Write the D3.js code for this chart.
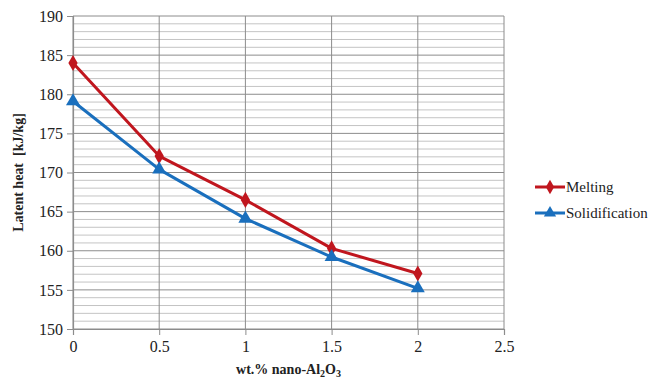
<!DOCTYPE html>
<html>
<head>
<meta charset="utf-8">
<script src="https://cdn.jsdelivr.net/npm/d3@7"></script>
<style>
  body { margin: 0; background: #fff; }
  svg { display: block; }
  text { font-family: "Liberation Serif", "DejaVu Serif", serif; fill: #222; }
</style>
</head>
<body>
<script>
const xValues = [0, 0.5, 1, 1.5, 2];
const melting = [184.0, 172.1, 166.5, 160.3, 157.1];
const solidification = [179.1, 170.4, 164.1, 159.2, 155.2];
const xTicks = [0, 0.5, 1, 1.5, 2, 2.5];
const yTicks = [150, 155, 160, 165, 170, 175, 180, 185, 190];
const seriesNames = ["Melting", "Solidification"];
const seriesColors = ["#C0161E", "#1A6FBD"];

const W = 667, H = 382;
const svg = d3.select("body").append("svg").attr("width", W).attr("height", H);

const x = d3.scaleLinear().domain([0, 2.5]).range([73, 504]);
const y = d3.scaleLinear().domain([150, 190]).range([329, 16]);

// minor horizontal gridlines every 1 unit
const minor = d3.range(150, 191, 1).filter(v => v % 5 !== 0);
svg.append("g").selectAll("line").data(minor).join("line")
  .attr("x1", x(0)).attr("x2", x(2.5))
  .attr("y1", d => y(d)).attr("y2", d => y(d))
  .attr("stroke", "#c4c4c4").attr("stroke-width", 1);

// major horizontal gridlines
svg.append("g").selectAll("line").data(yTicks).join("line")
  .attr("x1", x(0)).attr("x2", x(2.5))
  .attr("y1", d => y(d)).attr("y2", d => y(d))
  .attr("stroke", "#8c8c8c").attr("stroke-width", 1);

// vertical gridlines
svg.append("g").selectAll("line").data(xTicks).join("line")
  .attr("x1", d => x(d)).attr("x2", d => x(d))
  .attr("y1", y(150)).attr("y2", y(190))
  .attr("stroke", "#8c8c8c").attr("stroke-width", 1);

// axes
const yAxis = svg.append("g").attr("transform", `translate(${x(0)},0)`)
  .call(d3.axisLeft(y).tickValues(yTicks).tickSize(6).tickPadding(4).tickFormat(d3.format("d")));
const xAxis = svg.append("g").attr("transform", `translate(0,${y(150)})`)
  .call(d3.axisBottom(x).tickValues(xTicks).tickSize(6).tickPadding(6).tickFormat(d => String(d)));
[yAxis, xAxis].forEach(g => {
  g.attr("font-family", '"Liberation Serif", serif').attr("font-size", 16);
  g.select(".domain").attr("stroke", "#8c8c8c").attr("stroke-width", 1.2);
  g.selectAll(".tick line").attr("stroke", "#8c8c8c");
  g.selectAll(".tick text").attr("fill", "#333");
});

// series
const series = [melting, solidification];
const line = d3.line().x((d, i) => x(xValues[i])).y(d => y(d));
series.forEach((vals, si) => {
  svg.append("path").datum(vals).attr("d", line)
    .attr("fill", "none").attr("stroke", seriesColors[si]).attr("stroke-width", 3)
    .attr("stroke-linejoin", "round");
  const sym = si === 0 ? d3.symbolDiamond : d3.symbolTriangle;
  const size = si === 0 ? 75 : 85;
  svg.append("g").selectAll("path").data(vals).join("path")
    .attr("transform", (d, i) => `translate(${x(xValues[i])},${y(d)})`)
    .attr("d", d3.symbol().type(sym).size(size))
    .attr("fill", seriesColors[si]);
});

// axis titles
svg.append("text")
  .attr("transform", `translate(23,${(y(150) + y(190)) / 2}) rotate(-90)`)
  .attr("text-anchor", "middle").style("font-size", "14px").style("font-weight", "bold")
  .attr("xml:space", "preserve")
  .text("Latent heat  [kJ/kg]");

const xt = svg.append("text")
  .attr("x", (x(0) + x(2.5)) / 2).attr("y", 374)
  .attr("text-anchor", "middle").style("font-size", "14px").style("font-weight", "bold");
xt.append("tspan").text("wt.% nano-Al");
xt.append("tspan").attr("dy", 3).style("font-size", "10px").text("2");
xt.append("tspan").attr("dy", -3).text("O");
xt.append("tspan").attr("dy", 3).style("font-size", "10px").text("3");

// legend
const legY = [187, 213];
seriesNames.forEach((name, i) => {
  const g = svg.append("g");
  g.append("line").attr("x1", 535).attr("x2", 565).attr("y1", legY[i]).attr("y2", legY[i])
    .attr("stroke", seriesColors[i]).attr("stroke-width", 3);
  g.append("path").attr("transform", `translate(550,${legY[i]})`)
    .attr("d", d3.symbol().type(i === 0 ? d3.symbolDiamond : d3.symbolTriangle).size(i === 0 ? 60 : 65))
    .attr("fill", seriesColors[i]);
  g.append("text").attr("x", 566).attr("y", legY[i] + 5).style("font-size", "15px").text(name);
});
</script>
</body>
</html>
